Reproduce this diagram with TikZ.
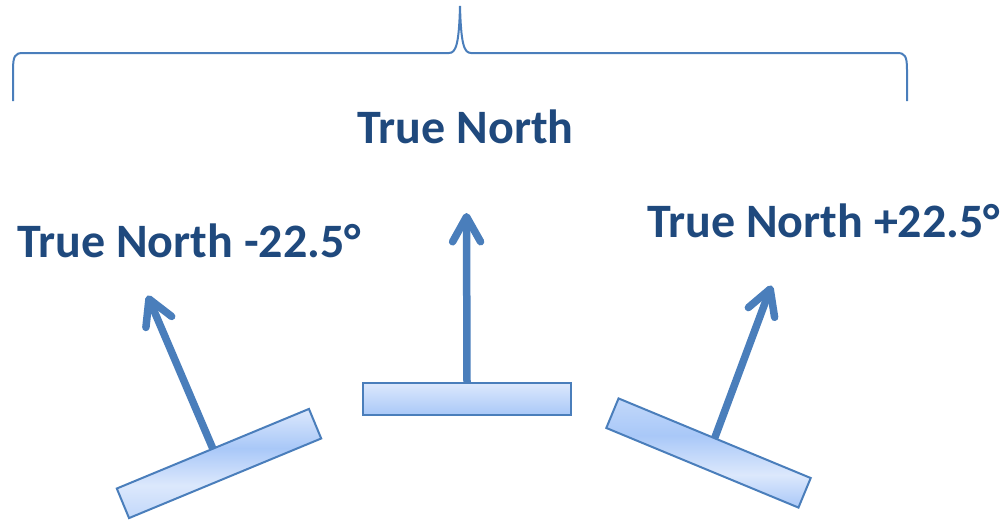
\documentclass[tikz,border=0pt]{standalone}
\usepackage{fontspec}
\setmainfont{Carlito}
\usetikzlibrary{arrows.meta}
\definecolor{txtblue}{HTML}{1F497D}
\definecolor{lineblue}{HTML}{4A7EBB}
\definecolor{pl}{HTML}{DCE8FC}
\definecolor{pd}{HTML}{A9C8F8}
\definecolor{pm}{HTML}{C2D8FA}
\pgfdeclareverticalshading{cshade}{100bp}{color(0bp)=(pd); color(25bp)=(pd); color(75bp)=(pl); color(100bp)=(pl)}
\pgfdeclareverticalshading{lshade}{100bp}{color(0bp)=(pm); color(25bp)=(pm); color(40bp)=(pl); color(57bp)=(pd); color(75bp)=(pl); color(100bp)=(pl)}
\pgfdeclareverticalshading{rshade}{100bp}{color(0bp)=(pd); color(25bp)=(pd); color(40bp)=(pl); color(58bp)=(pd); color(75bp)=(pm); color(100bp)=(pm)}
\tikzset{
  panel/.style={draw=lineblue, line width=2pt, minimum width=208pt, minimum height=32pt, inner sep=0pt, outer sep=0pt},
  arr/.style={draw=lineblue, line width=7.5pt, -{Straight Barb[length=25pt, width=28pt, round]}},
  lbl/.style={text=txtblue, font=\fontsize{48}{52}\selectfont\bfseries, inner sep=0pt},
  brace/.style={draw=lineblue, line width=2pt}
}
\begin{document}
\begin{tikzpicture}[x=1pt, y=-1pt]
\useasboundingbox (0,0) rectangle (1003,522);
% brace
\draw[brace] (13,101) -- (13,70) .. controls (13,56) and (15,53) .. (23,53) -- (449,53)
  .. controls (456,53) and (459,44) .. (460,6) .. controls (461,44) and (464,53) .. (471,53)
  -- (897,53) .. controls (905,53) and (907,56) .. (907,70) -- (907,101);
% labels
\node[lbl, anchor=base] (tn) at (465.5,143) {True North};
\node[lbl, anchor=base west] (tnm) at (17,257) {True North -22.5°};
\node[lbl, anchor=base west] (tnp) at (647,237) {True North +22.5°};
% panels
\node[panel, shading=cshade] (cp) at (467,399) {};
\node[panel, shading=lshade, rotate=22.5] (lp) at (219,463.5) {};
\node[panel, shading=rshade, rotate=-22.5] (rp) at (708.5,453) {};
% arrow tips
\coordinate (ct) at (466.5,213);
\coordinate (lt) at (147.5,295.5);
\coordinate (rt) at (771.5,285.5);
% arrows
\draw[arr] (cp.north) -- (ct);
\draw[arr] (lp.north) -- (lt);
\draw[arr] (rp.north) -- (rt);
\end{tikzpicture}
\end{document}
